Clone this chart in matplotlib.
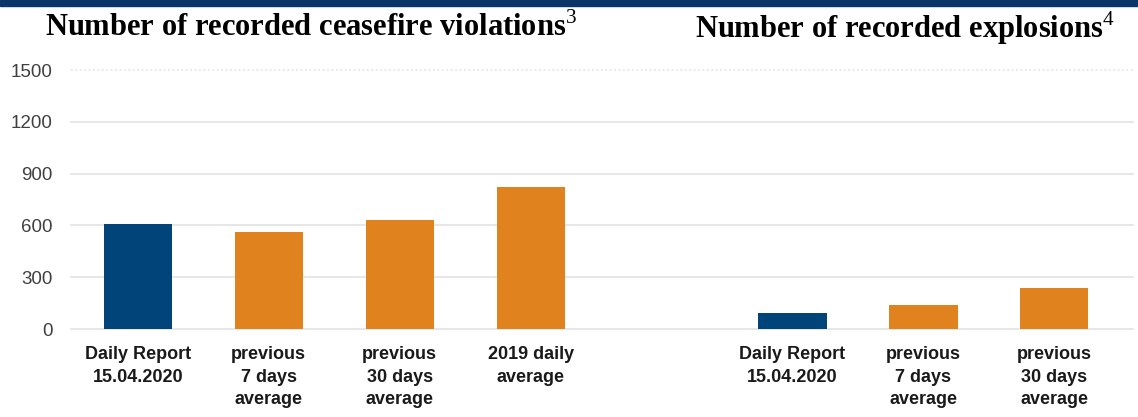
import numpy as np
import matplotlib.pyplot as plt

plt.rcParams['mathtext.fontset'] = 'custom'
plt.rcParams['mathtext.rm'] = 'Liberation Serif'

# data
cf_labels = ['Daily Report\n15.04.2020', 'previous\n7 days\naverage',
             'previous\n30 days\naverage', '2019 daily\naverage']
cf_values = [610, 560, 630, 825]
ex_labels = ['Daily Report\n15.04.2020', 'previous\n7 days\naverage',
             'previous\n30 days\naverage']
ex_values = [95, 140, 235]
yticks = [0, 300, 600, 900, 1200, 1500]

blue = '#00447A'
orange = '#E0821E'

fig = plt.figure(figsize=(11.38, 4.17), dpi=100)
ax = fig.add_axes([0.0624, 0.211, 0.9332, 0.621])

# one shared axis, right group starts after one empty slot
x_cf = np.arange(len(cf_values))
x_ex = np.arange(len(ex_values)) + len(cf_values) + 1
cols_cf = [blue] + [orange] * (len(cf_values) - 1)
cols_ex = [blue] + [orange] * (len(ex_values) - 1)
ax.bar(x_cf, cf_values, width=0.52, color=cols_cf, zorder=3)
ax.bar(x_ex, ex_values, width=0.52, color=cols_ex, zorder=3)

ax.set_xlim(-0.51, 7.6)
ax.set_ylim(0, 1500)
ax.set_yticks(yticks)
for v in yticks:
    ls = ':' if v == yticks[-1] else '-'
    ax.axhline(v, color='#e3e3e3', lw=1.2, ls=ls, zorder=1, clip_on=False)

ax.set_xticks(np.concatenate([x_cf, x_ex]))
ax.set_xticklabels(cf_labels + ex_labels, fontfamily='Liberation Sans',
                   fontweight='bold', fontsize=13, color='#1a1a1a',
                   linespacing=1.45, va='top')
for lab in ax.get_yticklabels():
    lab.set_fontfamily('Liberation Sans')
ax.tick_params(axis='y', labelsize=13.5, labelcolor='#404040', length=0, pad=13)
ax.tick_params(axis='x', length=0, pad=12)
for s in ax.spines.values():
    s.set_visible(False)

# titles
fig.text(311 / 1138, 1 - 28 / 417, 'Number of recorded ceasefire violations$^{3}$',
         ha='center', va='center', fontfamily='Liberation Serif',
         fontweight='bold', fontsize=22)
fig.text(905 / 1138, 1 - 28 / 417, 'Number of recorded explosions$^{4}$',
         ha='center', va='center', fontfamily='Liberation Serif',
         fontweight='bold', fontsize=22)

# top band
fig.add_artist(plt.Rectangle((0, 1 - 6 / 417), 1, 6 / 417,
                             transform=fig.transFigure, color='#0A3566'))

fig.savefig('out.png', dpi=100)
